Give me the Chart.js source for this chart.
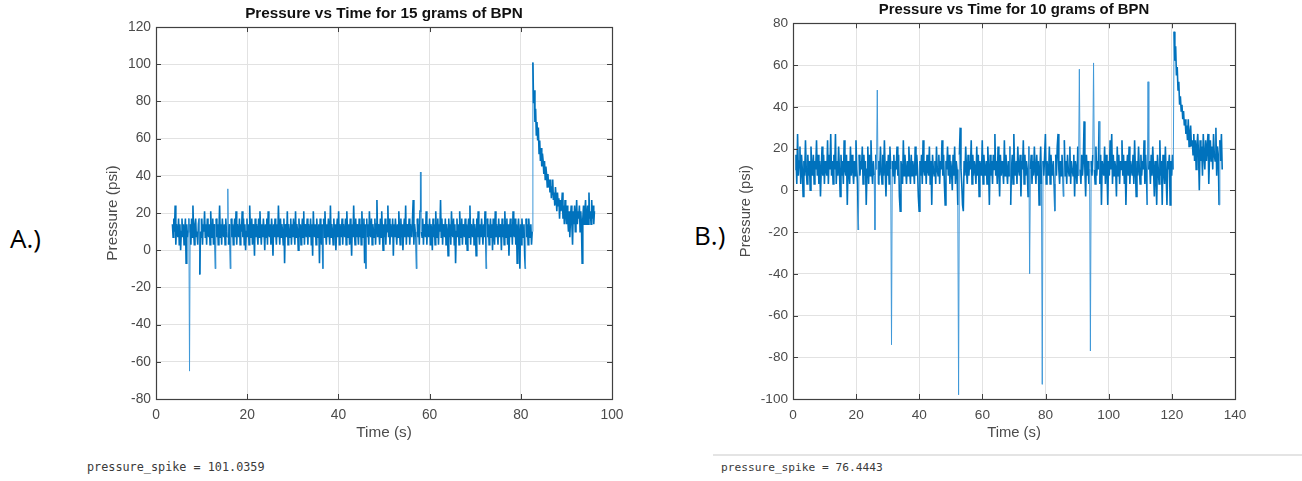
<!DOCTYPE html>
<html>
<head>
<meta charset="utf-8">
<script src="https://cdn.jsdelivr.net/npm/chart.js@4.4.1/dist/chart.umd.min.js"></script>
<style>
  html, body { margin: 0; padding: 0; background: #ffffff; }
  #page { position: relative; width: 1302px; height: 481px; overflow: hidden; background: #fff; }
  canvas { position: absolute; top: 0; }
  .panel-tag { position: absolute; font-family: "Open Sans", "Noto Sans", sans-serif; font-size: 26px; color: #000; line-height: 1; }
  .console { position: absolute; font-family: "DejaVu Sans Mono", "Liberation Mono", monospace; color: #3a3a3a; line-height: 1; white-space: pre; }
  #sep { position: absolute; left: 713px; top: 454px; width: 589px; height: 2px; background: #e4e4e4; }
</style>
</head>
<body>
<div id="page">
  <canvas id="chartA" width="540" height="450" style="left:100px"></canvas>
  <canvas id="chartB" width="540" height="450" style="left:730px"></canvas>
  <div class="panel-tag" style="left:10px; top:225px;">A.)</div>
  <div class="panel-tag" style="left:694px; top:222px;">B.)</div>
  <div id="sep"></div>
  <div class="console" style="left:87px; top:462px; font-size:11.8px;">pressure_spike = 101.0359</div>
  <div class="console" style="left:721px; top:462px; font-size:11.2px;">pressure_spike = 76.4443</div>
</div>
<script>
// ---------------- DATA ----------------
// Test A: 15 grams of BPN (regularly sampled recording)
const titleA = "Pressure vs Time for 15 grams of BPN";
const sampleStartA = 3.6;    // s, first sample
const samplePeriodA = 0.15;  // s between samples
const pressureA = [
  14,7,17,10,24,3,14,10,7,17,3,14,0,10,17,7,14,3,10,17,-7,14,7,10,17,
  -65,14,3,17,7,24,10,3,14,17,7,10,3,14,17,-13,10,7,17,3,14,10,21,7,14,
  3,17,10,7,14,3,21,10,7,17,3,14,10,-10,17,7,14,3,10,24,7,14,3,17,10,
  7,14,3,17,10,7,33,3,14,10,-10,17,7,14,3,10,17,7,21,3,14,10,7,17,3,
  14,10,21,7,17,3,14,0,10,17,7,14,3,24,10,7,17,3,14,10,-3,17,7,14,10,
  3,17,7,21,10,3,14,7,17,10,0,14,7,17,3,21,10,7,14,3,17,10,-3,14,7,
  17,10,3,14,7,24,10,3,17,7,14,10,3,17,-7,14,10,7,21,3,14,10,7,17,3,
  14,7,17,10,3,21,7,14,10,0,17,7,14,3,10,17,7,21,3,14,10,7,17,3,14,
  10,7,17,3,14,-3,21,10,7,14,3,17,10,7,14,-7,17,10,3,14,-10,17,7,21,10,
  3,14,7,17,10,3,24,7,14,10,3,17,7,14,0,10,17,7,21,3,14,10,7,17,3,
  14,10,7,17,3,21,10,7,14,3,17,10,-3,14,7,24,10,3,17,7,14,10,3,17,7,
  14,3,21,10,7,17,-7,14,-10,17,7,14,3,21,10,7,17,3,14,10,7,17,3,14,27,
  7,14,10,3,17,7,21,10,0,14,7,17,3,14,10,24,7,17,3,14,10,7,17,-3,14,
  7,17,10,3,14,7,21,10,3,17,7,14,0,10,17,7,24,3,14,10,7,17,3,14,10,
  7,17,27,3,14,10,7,-10,17,7,14,3,21,42,10,7,17,3,14,10,7,21,3,14,10,
  7,17,3,14,10,0,17,7,14,3,21,10,7,17,3,14,10,27,7,17,3,14,10,7,17,
  3,14,10,-3,17,7,14,3,21,10,7,17,3,14,-7,10,17,7,14,3,21,10,7,17,3,
  14,10,7,17,3,14,0,10,17,7,24,3,14,10,7,17,3,14,10,-3,17,7,21,10,3,
  14,7,17,10,3,14,7,21,10,-10,17,7,14,3,10,17,7,14,0,17,10,3,21,7,14,
  10,3,17,7,14,10,0,17,7,14,3,21,10,7,17,3,14,-3,10,17,7,14,3,21,10,
  7,17,3,14,-7,10,17,7,-10,14,3,17,10,7,14,-3,-10,17,7,14,3,17,10,7,14,
  3,10,
  101,79,86,69,76,62,69,59,66,
  52,59,48,55,45,52,48,41,48,38,45,41,34,
  41,34,38,31,38,28,34,38,27,31,24,34,28,
  21,31,24,28,17,27,21,24,31,17,24,14,27,
  21,14,24,17,10,21,7,17,24,14,3,21,14,24,10,17,27,14,21,17,24,10,21,14,-7,
  17,24,14,21,27,14,17,24,14,31,17,21,14,27,17,24,14,21
];

// Test B: 10 grams of BPN
const titleB = "Pressure vs Time for 10 grams of BPN";
const sampleStartB = 0.7;
const samplePeriodB = 0.25;
const pressureB = [
  10,17,3,27,7,14,21,3,17,10,-3,14,7,24,10,3,17,7,14,0,21,10,7,17,3,
  14,10,24,7,17,3,14,-3,10,21,7,17,3,14,10,7,24,3,17,10,27,7,14,3,17,
  10,27,3,14,7,21,10,-3,17,7,14,3,24,10,7,17,-7,14,10,3,21,7,17,10,3,
  14,7,24,10,3,-19,17,7,14,10,21,3,17,7,14,-7,10,21,3,17,7,24,10,3,14,
  7,-19,17,10,48,3,14,7,21,10,3,17,7,24,10,-3,14,7,17,3,21,10,-74,14,7,
  17,3,14,10,21,7,17,-3,-10,14,10,3,24,7,17,10,3,14,7,21,10,3,17,7,14,
  10,3,21,7,17,10,-3,-10,14,7,17,3,24,10,7,14,3,17,10,7,21,3,14,-7,17,
  10,7,14,3,21,10,7,17,3,14,10,24,7,17,3,-7,14,10,21,7,17,3,14,10,0,
  17,7,21,3,14,10,-7,-98,17,30,10,3,-7,-10,14,7,21,10,3,17,7,14,10,24,3,
  17,7,14,10,3,21,7,17,-3,14,10,7,24,3,17,10,7,14,3,21,10,-7,17,7,14,
  3,17,10,27,7,14,3,21,10,-3,17,7,14,10,3,24,7,17,10,3,14,7,21,-7,10,
  17,3,27,10,7,14,3,21,10,7,17,-3,14,10,24,3,17,7,14,10,-3,21,-40,10,17,
  3,14,7,21,10,3,17,7,14,-7,10,21,3,-93,14,7,17,27,3,14,10,7,21,3,17,
  10,7,14,3,-10,17,7,21,27,10,3,14,7,17,10,-3,24,7,14,3,17,10,7,21,3,
  14,10,7,17,-3,14,10,3,21,7,58,10,3,17,7,14,33,10,-3,17,7,14,3,10,-77,
  14,7,17,61,10,3,21,7,14,10,33,3,17,-7,14,10,7,21,3,17,10,-7,14,7,24,
  10,27,3,17,7,14,10,-3,21,7,17,3,14,10,24,7,17,3,14,-7,10,17,7,21,3,
  14,10,7,17,3,24,10,-3,14,7,21,10,3,17,7,14,10,24,3,17,7,-7,52,10,14,
  3,17,7,21,10,-3,14,7,-7,17,10,3,24,7,14,-7,17,10,3,21,7,-7,14,10,17,
  -7,14,7,17,10,
  76,62,69,55,59,48,52,41,45,38,41,34,38,31,34,27,31,24,34,21,27,31,21,24,17,27,
  14,24,10,21,27,17,0,24,14,21,7,27,17,10,24,14,21,27,3,17,24,14,21,10,27,17,14,30,7,21,17,-7,24,14,27,10
];

// Axis ranges / tick steps
const xRangeA = [0, 100], yRangeA = [-80, 120];
const xRangeB = [0, 140], yRangeB = [-100, 80];
const tickStep = 20;
const xLabel = "Time (s)";
const yLabel = "Pressure (psi)";

// ---------------- RENDERING ----------------
function toPoints(start, period, values) {
  return values.map((v, i) => ({ x: start + i * period, y: v }));
}

const matlabFrame = {
  id: 'matlabFrame',
  afterDraw(chart, args, opts) {
    const { ctx, chartArea: a, scales: { x, y } } = chart;
    const L = opts.tickLen;
    ctx.save();
    ctx.strokeStyle = opts.color;
    ctx.lineWidth = 1;
    ctx.beginPath();
    x.ticks.forEach(t => {
      const px = Math.round(x.getPixelForValue(t.value)) + 0.5;
      ctx.moveTo(px, a.bottom); ctx.lineTo(px, a.bottom - L);
      ctx.moveTo(px, a.top); ctx.lineTo(px, a.top + L);
    });
    y.ticks.forEach(t => {
      const py = Math.round(y.getPixelForValue(t.value)) + 0.5;
      ctx.moveTo(a.left, py); ctx.lineTo(a.left + L, py);
      ctx.moveTo(a.right, py); ctx.lineTo(a.right - L, py);
    });
    ctx.stroke();
    ctx.lineWidth = 1.2;
    ctx.strokeRect(Math.round(a.left) + 0.5, Math.round(a.top) + 0.5,
                   Math.round(a.right) - Math.round(a.left), Math.round(a.bottom) - Math.round(a.top));
    ctx.restore();
  }
};

// thin, lighter strokes for isolated large jumps (as a thin trace renders)
const isJump = c => Math.abs(c.p1.parsed.y - c.p0.parsed.y) > 25;

function makeChart(id, cfg) {
  const tickColor = '#4b4b4b';
  const font = 'Liberation Sans, Arial, sans-serif';
  return new Chart(document.getElementById(id), {
    type: 'line',
    data: {
      datasets: [{
        data: toPoints(cfg.start, cfg.period, cfg.values),
        borderColor: '#0072BD',
        borderWidth: 1.6,
        pointRadius: 0,
        tension: 0,
        fill: false,
        segment: {
          borderWidth: c => isJump(c) ? 1.0 : 1.6,
          borderColor: c => isJump(c) ? '#3f98d8' : '#0072BD'
        }
      }]
    },
    options: {
      responsive: false,
      animation: false,
      devicePixelRatio: 1,
      layout: { padding: { left: 0, right: cfg.padRight, top: 0, bottom: 0 } },
      plugins: {
        legend: { display: false },
        tooltip: { enabled: false },
        title: {
          display: true,
          text: cfg.title,
          fullSize: false,
          color: '#111',
          font: { family: font, size: cfg.titleSize, weight: 'bold', lineHeight: 1.2 },
          padding: { top: cfg.titleTop, bottom: cfg.titleBottom }
        },
        matlabFrame: { color: '#404040', tickLen: 5 }
      },
      scales: {
        x: {
          type: 'linear',
          min: cfg.xRange[0], max: cfg.xRange[1],
          afterFit: s => { s.height = cfg.xAxisHeight; },
          grid: { color: '#e2e2e2', drawTicks: false },
          border: { display: false },
          ticks: { stepSize: tickStep, color: tickColor, padding: 8, maxRotation: 0,
                   font: { family: font, size: cfg.tickSize, lineHeight: 1.2 } },
          title: { display: true, text: xLabel, color: tickColor,
                   font: { family: font, size: cfg.labelSize, lineHeight: 1.2 },
                   padding: { top: 0, bottom: cfg.xTitlePad } }
        },
        y: {
          type: 'linear',
          min: cfg.yRange[0], max: cfg.yRange[1],
          afterFit: s => { s.width = cfg.yAxisWidth; },
          grid: { color: '#e2e2e2', drawTicks: false },
          border: { display: false },
          ticks: { stepSize: tickStep, color: tickColor, padding: 5,
                   font: { family: font, size: cfg.tickSize, lineHeight: 1.2 } },
          title: { display: true, text: yLabel, color: tickColor,
                   font: { family: font, size: cfg.labelSize, lineHeight: 1.2 },
                   padding: { top: cfg.yTitlePad, bottom: 0 } }
        }
      }
    },
    plugins: [matlabFrame]
  });
}

makeChart('chartA', {
  title: titleA, start: sampleStartA, period: samplePeriodA, values: pressureA,
  xRange: xRangeA, yRange: yRangeA,
  padRight: 28, yAxisWidth: 56, xAxisHeight: 51,
  titleSize: 15.3, titleTop: 4.8, titleBottom: 3.9,
  tickSize: 13.8, labelSize: 15.3, xTitlePad: 7.8, yTitlePad: 3.8
});

makeChart('chartB', {
  title: titleB, start: sampleStartB, period: samplePeriodB, values: pressureB,
  xRange: xRangeB, yRange: yRangeB,
  padRight: 35, yAxisWidth: 63, xAxisHeight: 51,
  titleSize: 14.9, titleTop: 1.1, titleBottom: 4.3,
  tickSize: 13.6, labelSize: 14.8, xTitlePad: 8.1, yTitlePad: 7.1
});
</script>
</body>
</html>
